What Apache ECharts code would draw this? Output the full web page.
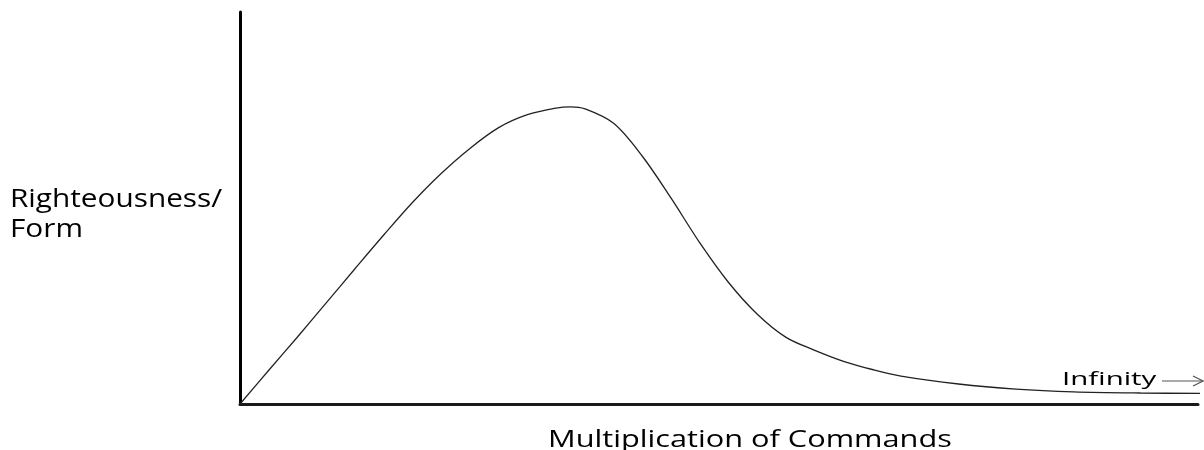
<!DOCTYPE html>
<html>
<head>
<meta charset="utf-8">
<script src="https://cdn.jsdelivr.net/npm/echarts@6/dist/echarts.min.js"></script>
<style>
  html, body { margin: 0; padding: 0; background: #fff; }
  #chart { width: 1204px; height: 450px; }
</style>
</head>
<body>
<div id="chart"></div>
<script>
// curve, x and y on a 0..100 scale
const xValues = [0, 3, 6, 9, 12, 15, 18, 21, 24, 27, 30, 33, 34.5, 36, 39, 42, 45, 48, 51, 54, 57, 60, 63, 66, 69, 75, 81, 87, 94, 100.6];
const yValues = [0, 8.6, 17.1, 25.8, 34.5, 43.1, 51.4, 58.8, 65.2, 70.5, 73.8, 75.5, 75.8, 75.3, 71.6, 63.2, 52.5, 41.1, 31.0, 22.9, 17.0, 13.7, 10.9, 8.8, 7.1, 5.1, 3.8, 3.1, 2.8, 2.7];

const yLabel = "Righteousness/\nForm";
const xLabel = "Multiplication of Commands";
const endLabel = "Infinity";

const font = "'Open Sans', sans-serif";

const chart = echarts.init(document.getElementById("chart"));

const option = {
  animation: false,
  backgroundColor: "#fff",
  grid: { left: 240, right: 6, top: 12, bottom: 46 },
  xAxis: {
    type: "value",
    min: 0,
    max: 100,
    axisLine: { show: true, lineStyle: { color: "#1a1a1a", width: 3 } },
    axisTick: { show: false },
    axisLabel: { show: false },
    splitLine: { show: false },
  },
  yAxis: {
    type: "value",
    min: 0,
    max: 100,
    axisLine: { show: true, lineStyle: { color: "#000", width: 3 } },
    axisTick: { show: false },
    axisLabel: { show: false },
    splitLine: { show: false },
  },
  series: [
    {
      type: "line",
      data: xValues.map((x, i) => [x, yValues[i]]),
      smooth: 0.33,
      clip: false,
      showSymbol: false,
      lineStyle: { color: "#222", width: 1.3 },
    },
  ],
  graphic: [
    {
      type: "text",
      x: 10,
      y: 185,
      scaleX: 1.19,
      style: { text: yLabel, font: "25px " + font, lineHeight: 30, fill: "#000", verticalAlign: "top" },
    },
    {
      type: "text",
      x: 548,
      y: 428,
      scaleX: 1.28,
      style: { text: xLabel, font: "24px " + font, fill: "#000", verticalAlign: "top" },
    },
    {
      type: "text",
      x: 1062,
      y: 370,
      scaleX: 1.55,
      style: { text: endLabel, font: "19px " + font, fill: "#000", verticalAlign: "top" },
    },
    {
      type: "polyline",
      shape: { points: [[1162, 381], [1203, 381]] },
      style: { stroke: "#555", lineWidth: 1.2, fill: null },
    },
    {
      type: "polyline",
      shape: { points: [[1193, 376], [1203, 381], [1193, 386]] },
      style: { stroke: "#555", lineWidth: 1.2, fill: null },
    },
  ],
};

chart.setOption(option);
</script>
</body>
</html>
